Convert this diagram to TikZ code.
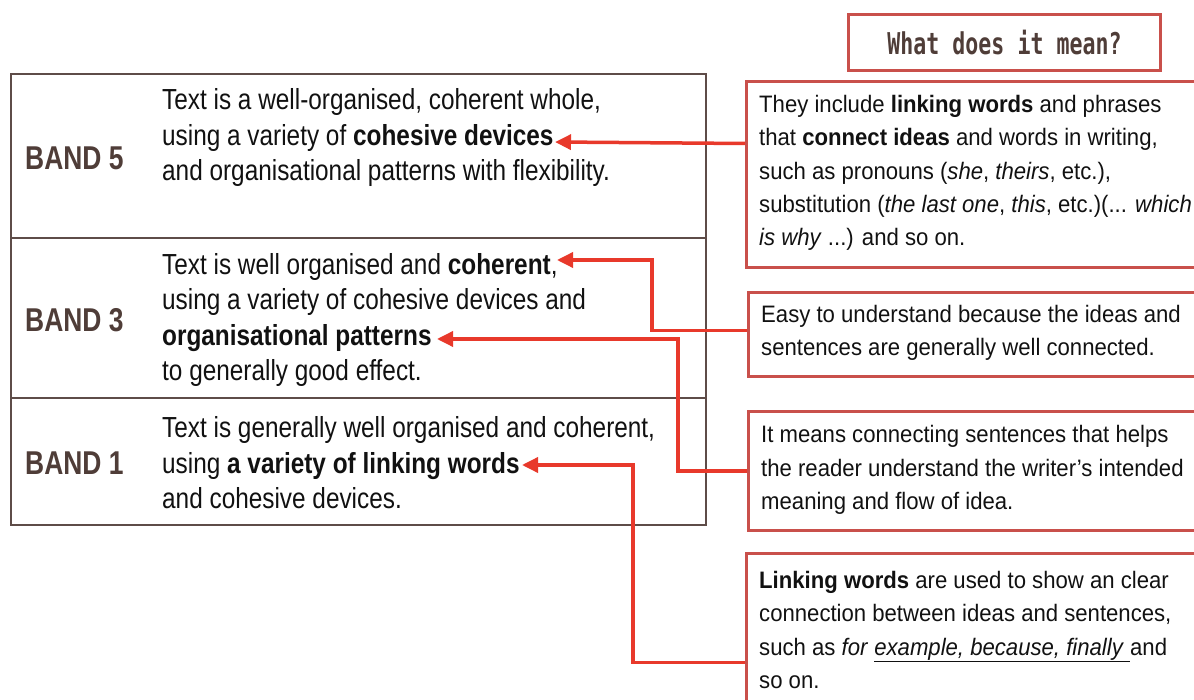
\documentclass[tikz,border=0pt]{standalone}
\usepackage{fontspec}
\setmainfont{Liberation Sans}
\newfontfamily\lfont{Liberation Sans}[FakeStretch=0.84]
\newfontfamily\rfont{Liberation Sans}[FakeStretch=0.93]
\newfontfamily\bandfont{Liberation Sans}[FakeStretch=0.8]
\newfontfamily\hfont{DejaVu Sans Mono}[FakeStretch=0.72]
\usetikzlibrary{arrows.meta}
\definecolor{brn}{HTML}{4F3D38}
\definecolor{tblline}{HTML}{5E4C48}
\definecolor{boxred}{HTML}{C9504B}
\definecolor{arrred}{HTML}{E8392B}
\definecolor{txt}{HTML}{111111}
\begin{document}
\begin{tikzpicture}[x=1pt,y=-1pt,
  row/.style={draw=tblline, line width=2pt, rectangle, inner sep=0pt, anchor=north west, minimum width=695pt},
  rbox/.style={draw=boxred, line width=3pt, rectangle, inner sep=0pt, anchor=north west},
  ltext/.style={anchor=west, align=left, inner sep=0pt, text=txt, font=\lfont\fontsize{29}{35.5}\selectfont},
  rtext/.style={anchor=west, align=left, inner sep=0pt, text=txt, font=\rfont\fontsize{23.8}{33.2}\selectfont},
  band/.style={anchor=west, inner sep=0pt, text=brn, font=\bandfont\bfseries\fontsize{33}{33}\selectfont},
  arr/.style={draw=arrred, line width=3.5pt, -{Triangle[length=16pt,width=15pt]}}
]
\useasboundingbox (0,0) rectangle (1194,700);
\clip (0,0) rectangle (1194,700);

% table rows
\node[row, minimum height=164pt] (r5) at (10,73) {};
\node[row, minimum height=160pt] (r3) at (10,237) {};
\node[row, minimum height=127pt] (r1) at (10,397) {};

\node[band] (b5) at (25,158) {BAND 5};
\node[band] (b3) at (25,320) {BAND 3};
\node[band] (b1) at (25,463) {BAND 1};

\node[ltext] (t5) at (162,138) {Text is a well-organised, coherent whole,\\
using a variety of \textbf{cohesive devices}\\
and organisational patterns with flexibility.};
\node[ltext] (t3) at (162,320) {Text is well organised and \textbf{coherent},\\
using a variety of cohesive devices and\\
\textbf{organisational patterns}\\
to generally good effect.};
\node[ltext] (t1) at (162,463) {Text is generally well organised and coherent,\\
using \textbf{a variety of linking words}\\
and cohesive devices.};

% header
\node[draw=boxred, line width=3pt, rectangle, inner sep=0pt, minimum width=312pt, minimum height=56pt,
  text=brn, font=\hfont\bfseries\fontsize{30}{30}\selectfont] (head) at (1004.5,43) {What does it mean?};

% right boxes
\node[rbox, minimum width=470pt, minimum height=186pt] (x1) at (745,80) {};
\node[rbox, minimum width=470pt, minimum height=84pt] (x2) at (747,291) {};
\node[rbox, minimum width=470pt, minimum height=119pt] (x3) at (747,410) {};
\node[rbox, minimum width=470pt, minimum height=170pt] (x4) at (745,552) {};

\node[rtext] (y1) at (759,173) {They include \textbf{linking words} and phrases\\
that \textbf{connect ideas} and words in writing,\\
such as pronouns (\textit{she}, \textit{theirs}, etc.),\\
substitution (\textit{the last one}, \textit{this}, etc.)(... \textit{which}\\
\textit{is why} ...) and so on.};
\node[rtext] (y2) at (761,333) {Easy to understand because the ideas and\\
sentences are generally well connected.};
\node[rtext] (y3) at (761,470) {It means connecting sentences that helps\\
the reader understand the writer’s intended\\
meaning and flow of idea.};
\node[rtext] (y4) at (759,630) {\textbf{Linking words} are used to show an clear\\
connection between ideas and sentences,\\
such as \textit{for} \underline{\textit{example, because, finally}\ }and\\
so on.};

% arrow tips and bends
\coordinate (p1) at (555,142);
\coordinate (p2) at (557,260);
\coordinate (p3) at (437,339);
\coordinate (p4) at (522,465);
\coordinate (k2) at (652,260);
\coordinate (k3) at (678,339);
\coordinate (k4) at (633,465);

\draw[arr] ([yshift=31pt]x1.west) -- (p1);
\draw[arr] ([yshift=4pt]x2.west) -| (k2) -- (p2);
\draw[arr] (x3.west) -| (k3) -- (p3);
\draw[arr] ([yshift=-24pt]x4.west) -| (k4) -- (p4);
\end{tikzpicture}
\end{document}
